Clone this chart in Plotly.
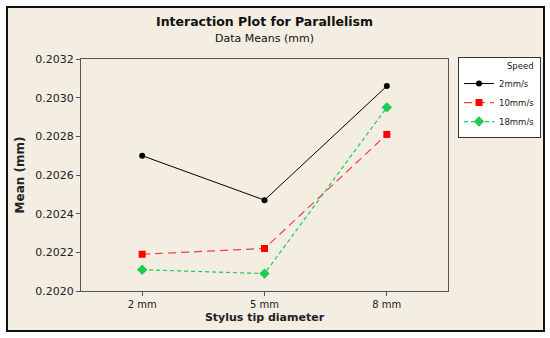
import plotly.graph_objects as go

categories = ["2 mm", "5 mm", "8 mm"]
speed_2 = [0.20270, 0.20247, 0.20306]
speed_10 = [0.20219, 0.20222, 0.20281]
speed_18 = [0.20211, 0.20209, 0.20295]
y_ticks = [0.2020, 0.2022, 0.2024, 0.2026, 0.2028, 0.2030, 0.2032]

W, H = 550, 338
L, R, T, B = 81, 102, 59, 47
pw, ph = W - L - R, H - T - B

def px_x(p):
    return (p - L) / pw

def px_y(p):
    return (H - B - p) / ph

fig = go.Figure()
fig.add_trace(go.Scatter(x=categories, y=speed_2, name="2mm/s", mode="lines+markers",
                         line=dict(color="black", width=1),
                         marker=dict(symbol="circle", size=6, color="black")))
fig.add_trace(go.Scatter(x=categories, y=speed_10, name="10mm/s", mode="lines+markers",
                         line=dict(color="#FF3B3B", width=1.2, dash="8px,5px"),
                         marker=dict(symbol="square", size=7, color="#FF0000")))
fig.add_trace(go.Scatter(x=categories, y=speed_18, name="18mm/s", mode="lines+markers",
                         line=dict(color="#1FCB55", width=1.2, dash="4px,3px"),
                         marker=dict(symbol="diamond", size=8, color="#1FCB55")))

font = "DejaVu Sans"
fig.update_layout(
    width=W, height=H,
    margin=dict(l=L, r=R, t=T, b=B, autoexpand=False),
    paper_bgcolor="white",
    plot_bgcolor="white",
    font=dict(family=font, size=11, color="#222"),
    showlegend=True,
    legend=dict(x=px_x(458), y=px_y(57), xanchor="left", yanchor="top",
                bgcolor="white", bordercolor="#333", borderwidth=1,
                font=dict(size=8.5, family=font),
                title=dict(text="                 Speed", font=dict(size=8.5)),
                tracegroupgap=0, itemwidth=30),
    xaxis=dict(type="category", range=[-0.5, 2.5], showgrid=False, zeroline=False,
               showline=True, linecolor="#555", linewidth=1, mirror=True,
               ticks="outside", ticklen=4, tickcolor="#555",
               tickfont=dict(size=10),
               title=dict(text="<b>Stylus tip diameter</b>", font=dict(size=11), standoff=4)),
    yaxis=dict(range=[0.2020, 0.2032], tickvals=y_ticks, tickformat=".4f",
               showgrid=False, zeroline=False,
               showline=True, linecolor="#555", linewidth=1, mirror=True,
               ticks="outside", ticklen=4, tickcolor="#555",
               tickfont=dict(size=11),
               title=dict(text="<b>Mean (mm)</b>", font=dict(size=12), standoff=8)),
    shapes=[dict(type="rect", xref="paper", yref="paper",
                 x0=px_x(7), x1=px_x(544), y0=px_y(331), y1=px_y(7),
                 fillcolor="#F3EDE2", line=dict(color="#111", width=2), layer="below")],
    annotations=[
        dict(text="<b>Interaction Plot for Parallelism</b>", xref="paper", yref="paper",
             x=0.5, y=px_y(21), xanchor="center", yanchor="middle", showarrow=False,
             font=dict(size=12.5, family=font, color="#111")),
        dict(text="Data Means (mm)", xref="paper", yref="paper",
             x=0.5, y=px_y(39), xanchor="center", yanchor="middle", showarrow=False,
             font=dict(size=11, family=font, color="#111")),
    ],
)

fig.write_html("out.html", config={"displayModeBar": False},
               post_script="document.body.style.margin='0';document.body.style.padding='0';")
